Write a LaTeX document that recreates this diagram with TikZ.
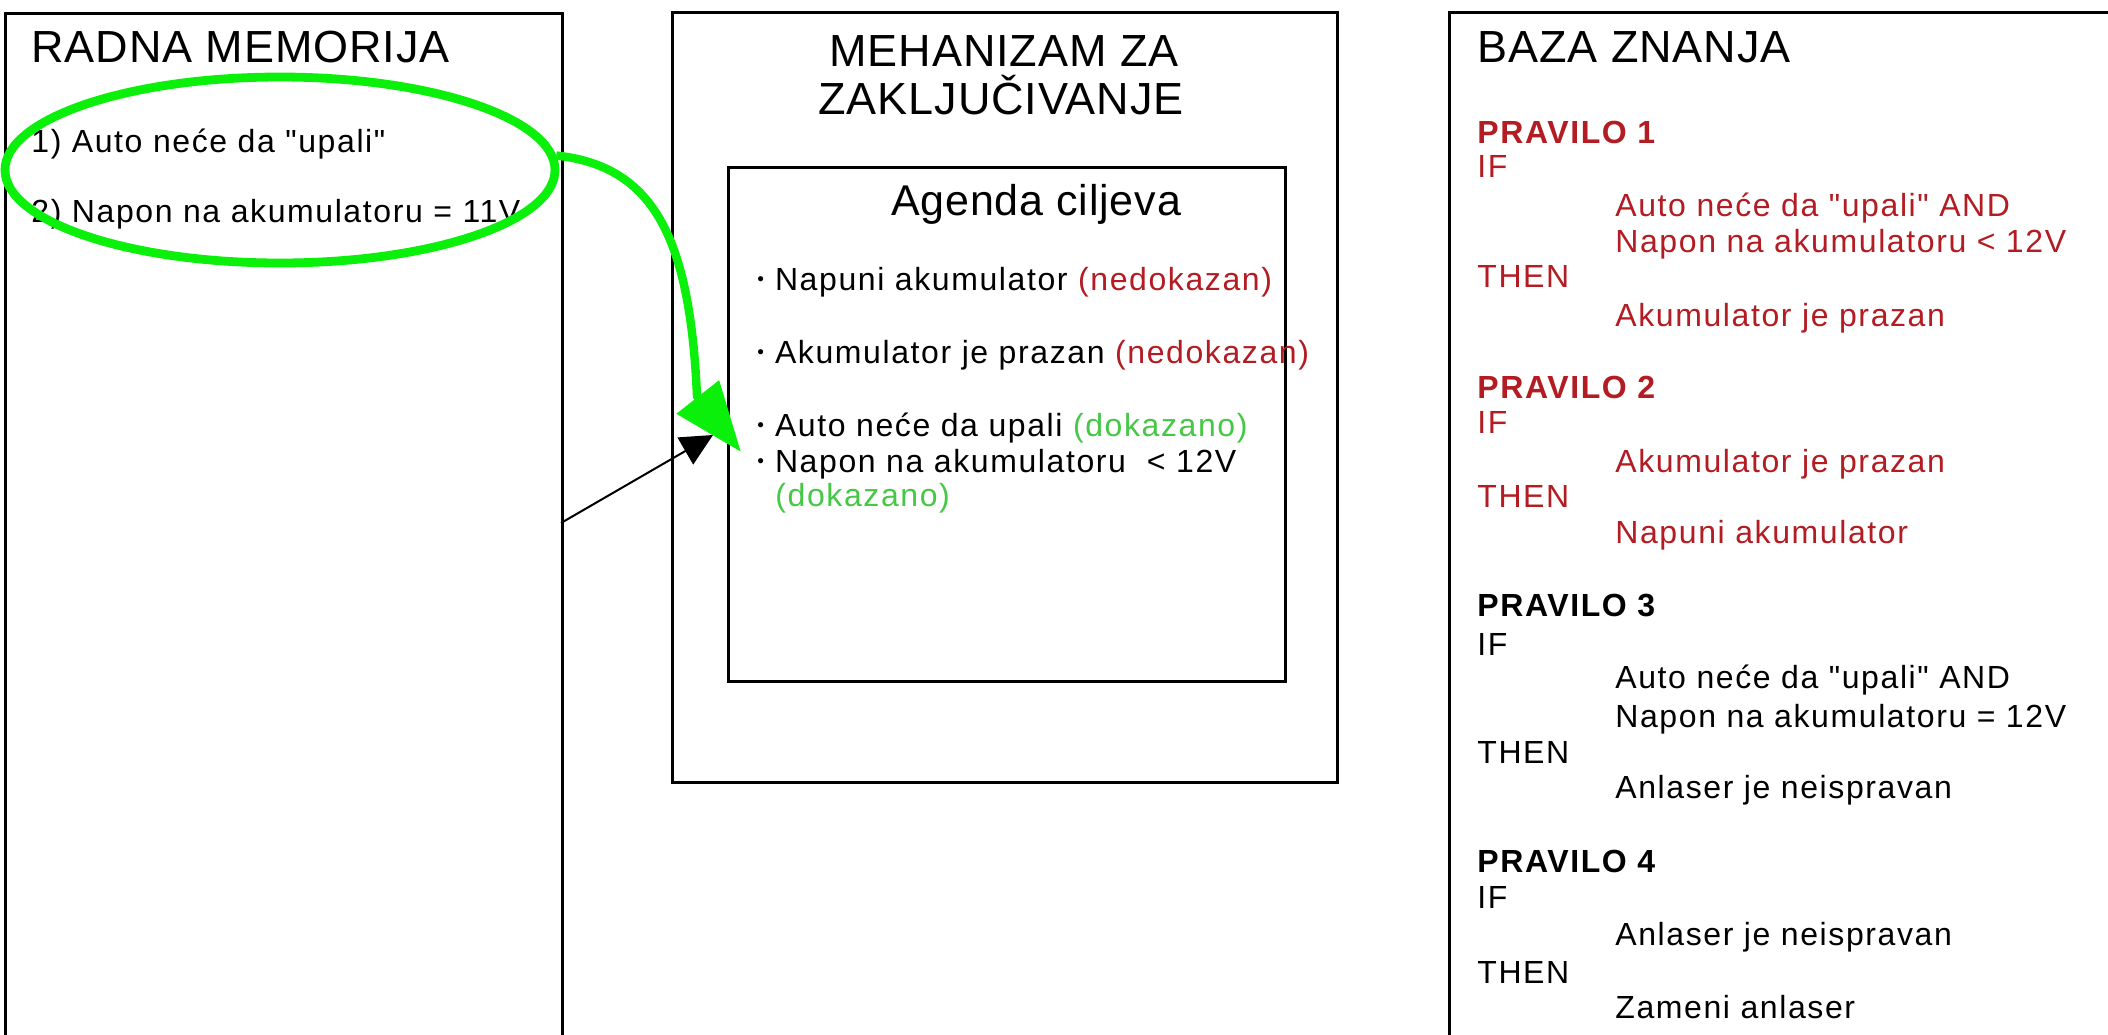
\documentclass[tikz,border=0pt]{standalone}
\usepackage{fontspec}
\setmainfont{Liberation Sans}
\newfontfamily\bodyfont[LetterSpace=5]{Liberation Sans}
\newfontfamily\titlefont[LetterSpace=2]{Liberation Sans}
\usetikzlibrary{shapes.geometric,arrows.meta}
\definecolor{glow}{RGB}{10,240,10}
\definecolor{okgreen}{RGB}{70,200,70}
\definecolor{rulered}{RGB}{178,28,34}
\newcommand\bul{\raisebox{2.4pt}{\fontsize{9.5pt}{9.5pt}\selectfont •}\hspace{5.5pt}}
\newcommand\nedok{\textcolor{rulered}{(nedokazan)}}
\newcommand\dok{\textcolor{okgreen}{(dokazano)}}
\begin{document}
\begin{tikzpicture}[x=0.5pt,y=-0.5pt,
  box/.style={draw, line width=1.5pt, rectangle, anchor=north west, inner sep=0pt},
  txt/.style={anchor=base west, inner sep=0pt, font=\bodyfont\fontsize{16pt}{19pt}\selectfont},
  hdr/.style={anchor=base west, inner sep=0pt, font=\bodyfont\bfseries\fontsize{16pt}{19pt}\selectfont},
  ttl/.style={anchor=base west, inner sep=0pt, font=\titlefont\fontsize{22.5pt}{27pt}\selectfont},
  redtxt/.style={text=rulered},
  hilite/.style={draw=glow, line width=4.4pt},
  greenarrow/.style={draw=glow, line width=4.2pt, -{Triangle[length=35pt,width=26pt]}},
  blackarrow/.style={draw=black, line width=1pt, -{Triangle[length=16pt,width=15.5pt]}}
]
\useasboundingbox (0,0) rectangle (2108,1034);
\clip (0,0) rectangle (2108,1034);
\fill[white] (0,0) rectangle (2108,1034);

% boxes
\node[box, minimum width=278.5pt, minimum height=522pt] (radna) at (4,12) {};
\node[box, minimum width=332.5pt, minimum height=385pt] (mech) at (671,11) {};
\node[box, minimum width=278.5pt, minimum height=257pt] (agenda) at (727,166) {};
\node[box, minimum width=342pt, minimum height=522pt] (baza) at (1448,11) {};

% radna memorija
\node[ttl] (radnaT) at (31,62) {RADNA MEMORIJA};
\node[txt] (fact1) at (31,152) {1) Auto neće da "upali"};
\node[txt] (fact2) at (31,222) {2) Napon na akumulatoru = 11V};

% mehanizam
\node[ttl, anchor=base] (mechT1) at (1004,66) {MEHANIZAM ZA};
\node[ttl, anchor=base] (mechT2) at (1001,114) {ZAKLJUČIVANJE};
\node[ttl, anchor=base, font=\titlefont\fontsize{21.5pt}{26pt}\selectfont] (agendaT) at (1036,215) {Agenda ciljeva};
\node[txt] (g1) at (757,290) {\bul Napuni akumulator \nedok};
\node[txt] (g2) at (757,363) {\bul Akumulator je prazan \nedok};
\node[txt] (g3) at (757,436) {\bul Auto neće da upali \dok};
\node[txt] (g4) at (757,472) {\bul Napon na akumulatoru\ \ < 12V};
\node[txt] (g5) at (775,506) {\dok};

% baza znanja
\node[ttl] (bazaT) at (1477,62) {BAZA ZNANJA};
\node[hdr, redtxt] (p1) at (1477,143) {PRAVILO 1};
\node[txt, redtxt] (p1if) at (1477,177) {IF};
\node[txt, redtxt] (p1a) at (1615,216) {Auto neće da "upali" AND};
\node[txt, redtxt] (p1b) at (1615,252) {Napon na akumulatoru < 12V};
\node[txt, redtxt] (p1then) at (1477,287) {THEN};
\node[txt, redtxt] (p1c) at (1615,326) {Akumulator je prazan};

\node[hdr, redtxt] (p2) at (1477,398) {PRAVILO 2};
\node[txt, redtxt] (p2if) at (1477,433) {IF};
\node[txt, redtxt] (p2a) at (1615,472) {Akumulator je prazan};
\node[txt, redtxt] (p2then) at (1477,507) {THEN};
\node[txt, redtxt] (p2c) at (1615,543) {Napuni akumulator};

\node[hdr] (p3) at (1477,616) {PRAVILO 3};
\node[txt] (p3if) at (1477,655) {IF};
\node[txt] (p3a) at (1615,688) {Auto neće da "upali" AND};
\node[txt] (p3b) at (1615,727) {Napon na akumulatoru = 12V};
\node[txt] (p3then) at (1477,763) {THEN};
\node[txt] (p3c) at (1615,798) {Anlaser je neispravan};

\node[hdr] (p4) at (1477,872) {PRAVILO 4};
\node[txt] (p4if) at (1477,908) {IF};
\node[txt] (p4a) at (1615,945) {Anlaser je neispravan};
\node[txt] (p4then) at (1477,983) {THEN};
\node[txt] (p4c) at (1615,1018) {Zameni anlaser};

% black arrow
\coordinate (blkA) at (561,523);
\coordinate (blkB) at (713,435);
\draw[blackarrow] (blkA) -- (blkB);

% green highlight and arrow
\node[hilite, ellipse, minimum width=275pt, minimum height=93pt, inner sep=0pt] (gell) at (280,170) {};
\coordinate (gtip) at (741,452);
\draw[greenarrow] (gell.3) .. controls (655,166) and (690,240) .. (697,396) -- (gtip);
\end{tikzpicture}
\end{document}
